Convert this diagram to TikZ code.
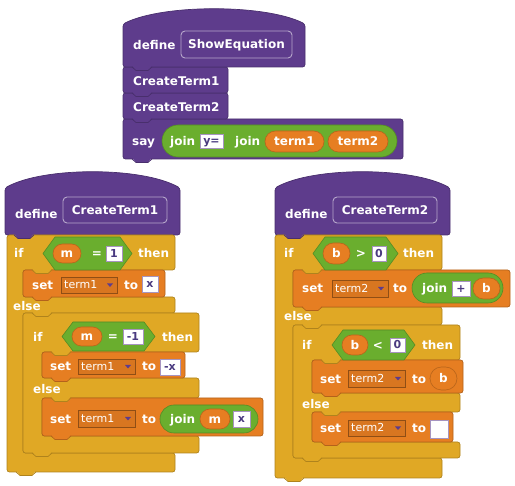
\documentclass[tikz,border=0pt]{standalone}
\usepackage{fontspec}
\setmainfont{DejaVu Sans}
\definecolor{cpurple}{HTML}{5E3C8C}
\definecolor{cgold}{HTML}{E0A825}
\definecolor{corange}{HTML}{E67E22}
\definecolor{cgreen}{HTML}{6AAE2E}
\definecolor{cink}{HTML}{4A3A80}
\tikzset{
  lbl/.style={font=\bfseries\fontsize{12}{14}\selectfont, text=white, inner sep=0pt, anchor=west, text height=8.8pt, text depth=0pt},
  clbl/.style={lbl, anchor=center},
  ddtxt/.style={font=\fontsize{11}{13}\selectfont, text=white, inner sep=0pt, anchor=west, text height=8pt, text depth=0pt},
  intxt/.style={font=\bfseries\fontsize{11}{13}\selectfont, text=cink, inner sep=0pt, anchor=center, text height=8pt, text depth=0pt},
  blk/.style={fill=#1, draw=#1!78!black, line width=0.7pt, rounded corners=2.5pt},
  defbox/.style={fill=cpurple, draw=cpurple!45!white, line width=0.9pt, rounded corners=4pt},
  inbox/.style={fill=white, draw=cpurple!55, line width=0.5pt},
  ddbox/.style={fill=corange!94!black, draw=corange!62!black, line width=0.5pt},
}
% hat: x1 x2 peak shoulder bottom
\newcommand\hatblk[5]{%
  \filldraw[blk=cpurple] (#1,#5) -- (#1,#4) .. controls ({#1+0.22*(#2-#1)},{#4-(#4-#3)/0.75}) and ({#2-0.22*(#2-#1)},{#4-(#4-#3)/0.75}) .. (#2,#4) -- (#2,#5) -- cycle;}
\newcommand\stk[5]{\filldraw[blk=#1] (#2,#3) rectangle (#4,#5);}
\newcommand\bump[3]{%
  \fill[#1] (#2+9,#3-1.5) -- (#2+13,#3+3.5) -- (#2+25,#3+3.5) -- (#2+29,#3-1.5) -- cycle;
  \draw[#1!78!black, line width=0.7pt] (#2+9,#3) -- (#2+13,#3+3.5) -- (#2+25,#3+3.5) -- (#2+29,#3);}
\newcommand\ifelseblk[9]{%
  \filldraw[blk=cgold] (#1,#4) -- (#3,#4) -- (#3,#5) -- (#2,#5) -- (#2,#6) -- (#3,#6) -- (#3,#7) -- (#2,#7) -- (#2,#8) -- (#3,#8) -- (#3,#9) -- (#1,#9) -- cycle;}
\newcommand\reporter[6]{\filldraw[fill=#1, draw=#1!80!black, line width=0.6pt, rounded corners=#6pt] (#2,#3) rectangle (#4,#5);}
\newcommand\hex[5]{\filldraw[fill=cgreen, draw=cgreen!80!black, line width=0.6pt] (#1,{(#2+#4)/2}) -- (#1+#5,#2) -- (#3-#5,#2) -- (#3,{(#2+#4)/2}) -- (#3-#5,#4) -- (#1+#5,#4) -- cycle;}
\newcommand\ddarrow[2]{\fill[cpurple] (#1-3,#2-1.5) -- (#1+3,#2-1.5) -- (#1,#2+2) -- cycle;}
\begin{document}
\begin{tikzpicture}[x=1pt,y=-1pt]
\useasboundingbox (0,0) rectangle (515,486);
% ---------------- top script ----------------
\stk{cpurple}{123}{119}{403}{159}
\stk{cpurple}{123}{93}{228}{119}
\stk{cpurple}{123}{67}{228}{93}
\hatblk{123}{305}{9}{24}{67}
\bump{cpurple}{123}{67}
\bump{cpurple}{123}{93}
\bump{cpurple}{123}{119}
\bump{cpurple}{123}{159}
\node[lbl] (d0) at (133,45) {define};
\filldraw[defbox] (181,31) rectangle (292,58);
\node[clbl] (n0) at (236.5,44.5) {ShowEquation};
\node[lbl] (c1) at (133,81) {CreateTerm1};
\node[lbl] (c2) at (133,107) {CreateTerm2};
\node[lbl] (say) at (132,141) {say};
\reporter{cgreen}{162}{125}{397}{157}{16}
\node[lbl] (j1) at (170,141) {join};
\filldraw[inbox] (200,134) rectangle (223,148);
\node[intxt] (yeq) at (211.5,141) {y=};
\node[lbl] (j2) at (235,141) {join};
\reporter{corange}{265}{131}{324}{152}{10.5}
\node[clbl] (tt1) at (294.5,141.5) {term1};
\reporter{corange}{328}{131}{388}{152}{10.5}
\node[clbl] (tt2) at (358,141.5) {term2};
% ---------------- left script ----------------
\hatblk{5}{180}{172}{188}{235}
\ifelseblk{7}{23}{175}{235}{270}{297}{313}{453}{472}
\ifelseblk{23}{42}{199}{313}{352}{378}{398}{436}{453}
\stk{corange}{23}{270}{165}{297}
\stk{corange}{42}{352}{185}{378}
\stk{corange}{42}{398}{263}{436}
\bump{cpurple}{5}{235}
\bump{cgold}{23}{270}
\bump{corange}{23}{297}
\bump{cgold}{23}{313}
\bump{cgold}{42}{352}
\bump{corange}{42}{378}
\bump{cgold}{42}{398}
\bump{corange}{42}{436}
\bump{cgold}{23}{453}
\bump{cgold}{7}{472}
\node[lbl] (ld) at (15,214) {define};
\filldraw[defbox] (63,197) rectangle (167,223);
\node[clbl] (ln) at (115,210) {CreateTerm1};
\node[lbl] (lif1) at (14,253) {if};
\hex{43}{237}{132}{270}{12}
\reporter{corange}{53}{244}{81}{263}{9.5}
\node[clbl] (lm1) at (67,253.5) {m};
\node[clbl] (leq1) at (97,253) {=};
\filldraw[inbox] (106,246) rectangle (122,261);
\node[intxt] (lone) at (114,253.5) {1};
\node[lbl] (lthen1) at (138,253) {then};
\node[lbl] (lset1) at (32,285) {set};
\filldraw[ddbox] (61,277) rectangle (117,293);
\node[ddtxt] (lv1) at (64,285) {term1};
\ddarrow{110}{285}
\node[lbl] (lto1) at (124,285) {to};
\filldraw[inbox] (142,276) rectangle (158,292);
\node[intxt] (lx1) at (150,284) {x};
\node[lbl] (lelse1) at (13,306) {else};
\node[lbl] (lif2) at (33,337) {if};
\hex{62}{322}{155}{351}{11}
\reporter{corange}{72}{327}{102}{346}{9.5}
\node[clbl] (lm2) at (87,336.5) {m};
\node[clbl] (leq2) at (113,336) {=};
\filldraw[inbox] (123,329) rectangle (143,344);
\node[intxt] (lmone) at (133,336.5) {-1};
\node[lbl] (lthen2) at (162,337) {then};
\node[lbl] (lset2) at (50,366) {set};
\filldraw[ddbox] (78,359) rectangle (135,374);
\node[ddtxt] (lv2) at (81,366.5) {term1};
\ddarrow{128}{366.5}
\node[lbl] (lto2) at (142,366) {to};
\filldraw[inbox] (160,359) rectangle (180,375);
\node[intxt] (lmx) at (170,367) {-x};
\node[lbl] (lelse2) at (33,389) {else};
\node[lbl] (lset3) at (50,419) {set};
\filldraw[ddbox] (78,410) rectangle (135,427);
\node[ddtxt] (lv3) at (81,418.5) {term1};
\ddarrow{128}{418.5}
\node[lbl] (lto3) at (142,419) {to};
\reporter{cgreen}{160}{405}{258}{433}{14}
\node[lbl] (lj) at (170,419) {join};
\reporter{corange}{200}{409}{230}{429}{10}
\node[clbl] (lm3) at (215,419) {m};
\filldraw[inbox] (233,411) rectangle (250,427);
\node[intxt] (lx2) at (241.5,419) {x};
% ---------------- right script ----------------
\hatblk{275}{450}{172}{188}{235}
\ifelseblk{275}{293}{442}{235}{270}{307}{325}{458}{478}
\ifelseblk{293}{312}{460}{325}{360}{393}{412}{442}{458}
\stk{corange}{293}{270}{510}{307}
\stk{corange}{312}{360}{463}{393}
\stk{corange}{312}{412}{453}{442}
\bump{cpurple}{275}{235}
\bump{cgold}{293}{270}
\bump{corange}{293}{307}
\bump{cgold}{293}{325}
\bump{cgold}{312}{360}
\bump{corange}{312}{393}
\bump{cgold}{312}{412}
\bump{corange}{312}{442}
\bump{cgold}{293}{458}
\bump{cgold}{275}{478}
\node[lbl] (rd) at (285,214) {define};
\filldraw[defbox] (333,197) rectangle (437,223);
\node[clbl] (rn) at (385,210) {CreateTerm2};
\node[lbl] (rif1) at (284,253) {if};
\hex{313}{237}{398}{270}{12}
\reporter{corange}{323}{243}{350}{264}{10.5}
\node[clbl] (rb1) at (336.5,253.5) {b};
\node[clbl] (rgt) at (361,253) {>};
\filldraw[inbox] (372,246) rectangle (386,261);
\node[intxt] (rz1) at (379,253.5) {0};
\node[lbl] (rthen1) at (403,253) {then};
\node[lbl] (rset1) at (302,288) {set};
\filldraw[ddbox] (332,280) rectangle (388,297);
\node[ddtxt] (rv1) at (335,288.5) {term2};
\ddarrow{381}{288.5}
\node[lbl] (rto1) at (393,288) {to};
\reporter{cgreen}{412}{273}{503}{303}{15}
\node[lbl] (rj) at (422,288) {join};
\filldraw[inbox] (452,281) rectangle (470,296);
\node[intxt] (rplus) at (461,288.5) {+};
\reporter{corange}{473}{278}{500}{299}{10.5}
\node[clbl] (rb2) at (486.5,288.5) {b};
\node[lbl] (relse1) at (284,316) {else};
\node[lbl] (rif2) at (302,345) {if};
\hex{332}{330}{415}{360}{11}
\reporter{corange}{342}{335}{368}{355}{10}
\node[clbl] (rb3) at (355,345) {b};
\node[clbl] (rlt) at (378,345) {<};
\filldraw[inbox] (390,338) rectangle (405,352);
\node[intxt] (rz2) at (397.5,345) {0};
\node[lbl] (rthen2) at (422,345) {then};
\node[lbl] (rset2) at (320,379) {set};
\filldraw[ddbox] (348,370) rectangle (405,387);
\node[ddtxt] (rv2) at (351,378.5) {term2};
\ddarrow{398}{378.5}
\node[lbl] (rto2) at (412,379) {to};
\reporter{corange}{430}{367}{457}{390}{11.5}
\node[clbl] (rb4) at (443.5,378.5) {b};
\node[lbl] (relse2) at (302,404) {else};
\node[lbl] (rset3) at (320,428) {set};
\filldraw[ddbox] (348,420) rectangle (405,436);
\node[ddtxt] (rv3) at (351,428) {term2};
\ddarrow{398}{428}
\node[lbl] (rto3) at (412,428) {to};
\filldraw[inbox] (430,420) rectangle (448,438);
\end{tikzpicture}
\end{document}
